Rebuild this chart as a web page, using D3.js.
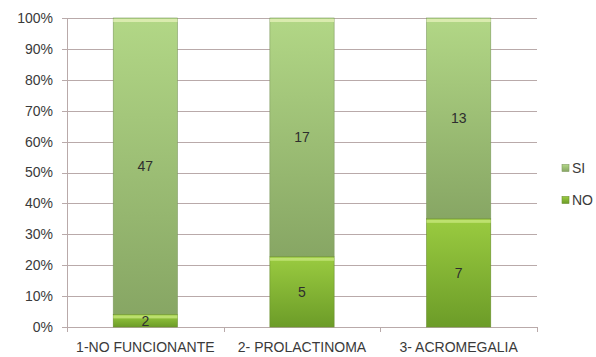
<!DOCTYPE html>
<html><head><meta charset="utf-8">
<script src="https://cdn.jsdelivr.net/npm/d3@7"></script>
<style>body{margin:0;background:#fff}svg{display:block}</style>
</head><body>
<svg id="c" width="596" height="357"></svg>
<script>
const categories = ["1-NO FUNCIONANTE", "2- PROLACTINOMA", "3- ACROMEGALIA"];
const seriesNames = ["NO", "SI"];
const noValues = [2, 5, 7];
const siValues = [47, 17, 13];
const yTicks = [0, 0.1, 0.2, 0.3, 0.4, 0.5, 0.6, 0.7, 0.8, 0.9, 1.0];

const svg = d3.select("#c");
const font = "'Liberation Sans', Arial, sans-serif";
const textColor = "#3a3a3a";
const gridColor = "#b9aaaa";

const x = d3.scaleBand().domain(categories).range([67, 537]).paddingInner(0.59).paddingOuter(0.295);
const y = d3.scaleLinear().domain([0, 1]).range([327, 18]);

const defs = svg.append("defs");
function grad(id, top, bottom) {
  const g = defs.append("linearGradient").attr("id", id).attr("x1", 0).attr("y1", 0).attr("x2", 0).attr("y2", 1);
  g.append("stop").attr("offset", "0%").attr("stop-color", top);
  g.append("stop").attr("offset", "100%").attr("stop-color", bottom);
}
grad("gSI", "#b2d786", "#87a664");
grad("gNO", "#9acb40", "#6c9c28");

// gridlines
svg.append("g").selectAll("line").data(yTicks).join("line")
  .attr("x1", 62).attr("x2", 537)
  .attr("y1", d => Math.round(y(d)) + 0.5).attr("y2", d => Math.round(y(d)) + 0.5)
  .attr("stroke", gridColor).attr("stroke-width", 1);

// y axis line
svg.append("line").attr("x1", 67.5).attr("x2", 67.5).attr("y1", y(1)).attr("y2", y(0) + 0.5)
  .attr("stroke", gridColor);
// x axis tick marks
const bounds = [67, 67 + x.step(), 67 + 2 * x.step(), 537];
svg.append("g").selectAll("line").data(bounds).join("line")
  .attr("x1", d => Math.round(d) + 0.5).attr("x2", d => Math.round(d) + 0.5)
  .attr("y1", y(0)).attr("y2", y(0) + 5).attr("stroke", gridColor);

// y labels
svg.append("g").selectAll("text").data(yTicks).join("text")
  .attr("x", 53).attr("y", d => y(d)).attr("dy", "0.35em")
  .attr("text-anchor", "end").attr("font-family", font).attr("font-size", 14)
  .attr("fill", textColor).text(d => d3.format(".0%")(d));

// bars
const data = categories.map((c, i) => {
  const t = noValues[i] + siValues[i];
  return { c, no: noValues[i], si: siValues[i], pNo: noValues[i] / t };
});
const bars = svg.append("g").selectAll("g").data(data).join("g");
bars.append("rect").attr("x", d => x(d.c)).attr("width", x.bandwidth())
  .attr("y", y(1)).attr("height", d => y(d.pNo) - y(1))
  .attr("fill", "url(#gSI)").attr("stroke", "#7f9a60").attr("stroke-width", 0.6);
bars.append("rect").attr("x", d => x(d.c)).attr("width", x.bandwidth())
  .attr("y", y(1) + 1).attr("height", 3).attr("fill", "#e4f0b8").attr("opacity", 0.8);
bars.append("rect").attr("x", d => x(d.c)).attr("width", x.bandwidth())
  .attr("y", d => y(d.pNo)).attr("height", d => y(0) - y(d.pNo))
  .attr("fill", "url(#gNO)").attr("stroke", "#6b8f30").attr("stroke-width", 0.6);
bars.append("rect").attr("x", d => x(d.c)).attr("width", x.bandwidth())
  .attr("y", d => y(d.pNo) + 1).attr("height", d => Math.min(3, y(0) - y(d.pNo) - 1)).attr("fill", "#c6e67a").attr("opacity", 0.8);

// data labels
bars.append("text").attr("x", d => x(d.c) + x.bandwidth() / 2).attr("y", d => (y(1) + y(d.pNo)) / 2)
  .attr("dy", "0.35em").attr("text-anchor", "middle").attr("font-family", font).attr("font-size", 14)
  .attr("fill", "#2e2e2e").text(d => d.si);
bars.append("text").attr("x", d => x(d.c) + x.bandwidth() / 2).attr("y", d => (y(0) + y(d.pNo)) / 2)
  .attr("dy", "0.35em").attr("text-anchor", "middle").attr("font-family", font).attr("font-size", 14)
  .attr("fill", "#2e2e2e").text(d => d.no);

// x labels
svg.append("g").selectAll("text").data(categories).join("text")
  .attr("x", d => x(d) + x.bandwidth() / 2).attr("y", 347).attr("dy", "0.35em")
  .attr("text-anchor", "middle").attr("font-family", font).attr("font-size", 14)
  .attr("fill", textColor).text(d => d);

// legend
const legendItems = [{ name: "SI", fill: "url(#gSI)", stroke: "#7f9a60" }, { name: "NO", fill: "url(#gNO)", stroke: "#6b8f30" }];
const lg = svg.append("g").selectAll("g").data(legendItems).join("g")
  .attr("transform", (d, i) => `translate(562, ${168 + i * 32})`);
lg.append("rect").attr("x", 0).attr("y", -3.5).attr("width", 7).attr("height", 7)
  .attr("fill", d => d.fill).attr("stroke", d => d.stroke).attr("stroke-width", 0.6);
lg.append("text").attr("x", 10).attr("y", 0).attr("dy", "0.35em").attr("font-family", font)
  .attr("font-size", 14).attr("fill", textColor).text(d => d.name);
</script>
</body></html>
